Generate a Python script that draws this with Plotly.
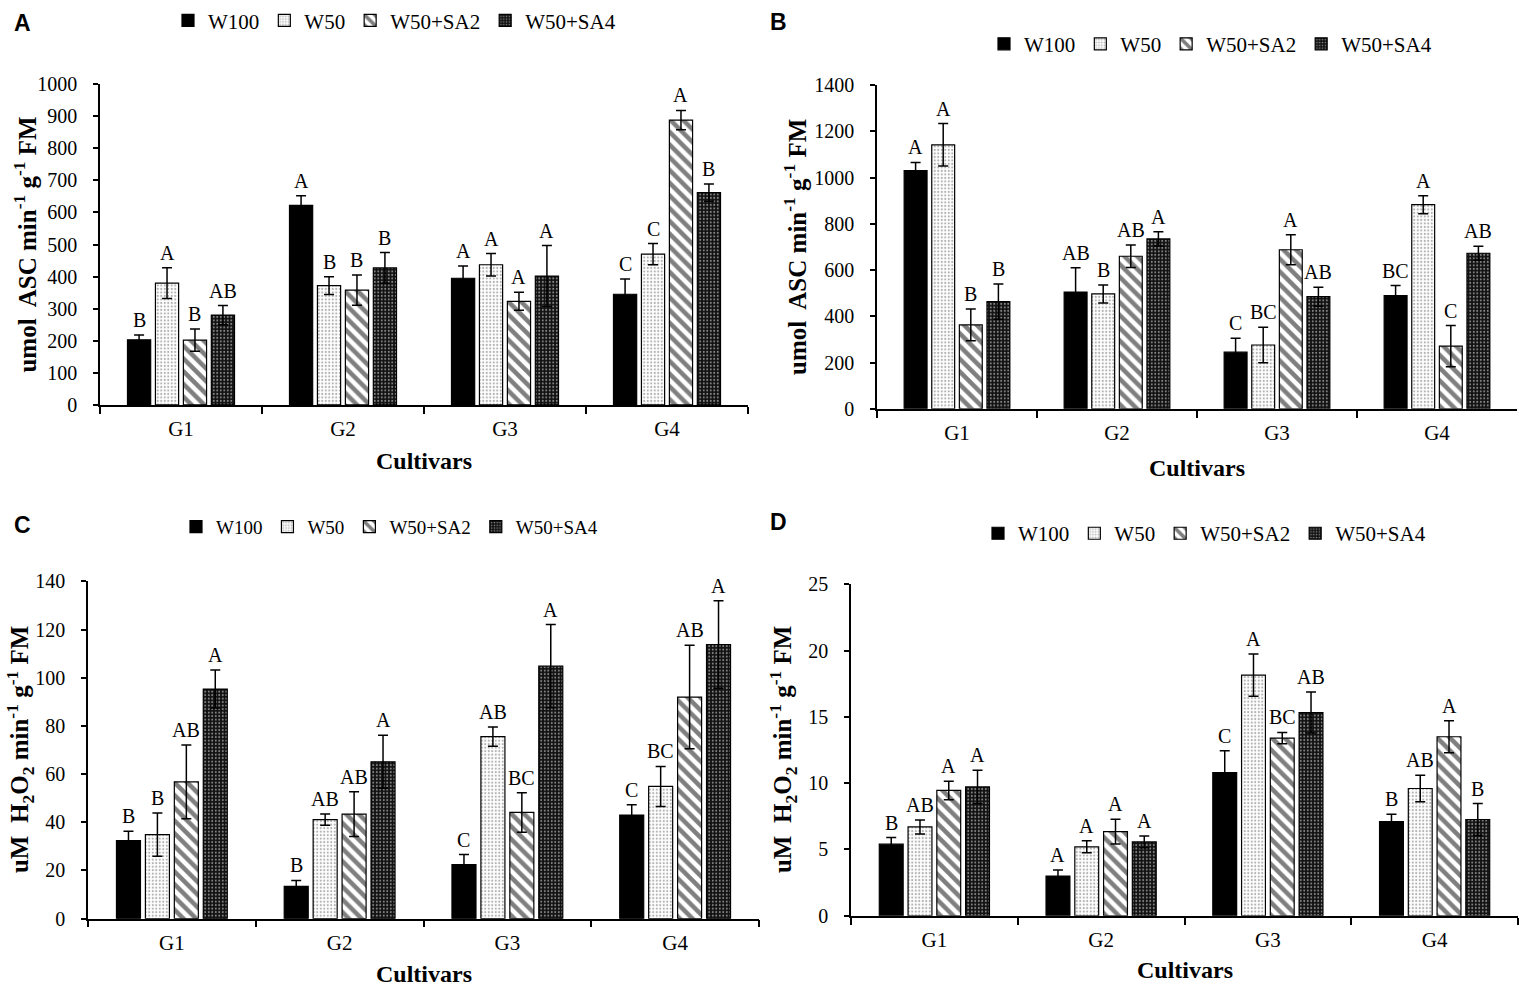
import plotly.graph_objects as go

cultivars = ["G1", "G2", "G3", "G4"]
treatments = ["W100", "W50", "W50+SA2", "W50+SA4"]

# Panel A (umol ASC min-1 g-1 FM)
a_w100 = [203, 622, 395, 345]
a_w50 = [380, 372, 437, 470]
a_sa2 = [202, 358, 323, 888]
a_sa4 = [280, 427, 402, 662]
a_err_w100 = [15, 30, 38, 48]
a_err_w50 = [48, 28, 35, 33]
a_err_sa2 = [35, 47, 28, 30]
a_err_sa4 = [30, 48, 95, 27]
a_letters = [["B", "A", "A", "C"], ["A", "B", "A", "C"], ["B", "B", "A", "A"], ["AB", "B", "A", "B"]]

# Panel B
b_w100 = [1030, 505, 245, 490]
b_w50 = [1142, 497, 276, 883]
b_sa2 = [363, 660, 688, 271]
b_sa4 = [464, 735, 485, 673]
b_err_w100 = [36, 105, 60, 43]
b_err_w50 = [92, 39, 77, 39]
b_err_sa2 = [69, 49, 65, 89]
b_err_sa4 = [76, 31, 41, 30]
b_letters = [["A", "AB", "C", "BC"], ["A", "B", "BC", "A"], ["B", "AB", "A", "C"], ["B", "A", "AB", "AB"]]

# Panel C (uM H2O2 min-1 g-1 FM)
c_w100 = [32.4, 13.4, 22.5, 43.0]
c_w50 = [34.9, 41.1, 75.6, 54.9]
c_sa2 = [56.8, 43.4, 44.1, 92.0]
c_sa4 = [95.3, 65.1, 104.8, 113.8]
c_err_w100 = [3.9, 2.5, 4.1, 4.3]
c_err_w50 = [9.0, 2.3, 4.0, 8.3]
c_err_sa2 = [15.3, 9.3, 8.2, 21.5]
c_err_sa4 = [7.9, 11.0, 17.3, 18.2]
c_letters = [["B", "B", "C", "C"], ["B", "AB", "AB", "BC"], ["AB", "AB", "BC", "AB"], ["A", "A", "A", "A"]]

# Panel D
d_w100 = [5.4, 3.0, 10.8, 7.1]
d_w50 = [6.7, 5.2, 18.15, 9.6]
d_sa2 = [9.45, 6.35, 13.4, 13.5]
d_sa4 = [9.72, 5.57, 15.33, 7.26]
d_err_w100 = [0.5, 0.45, 1.65, 0.55]
d_err_w50 = [0.53, 0.45, 1.6, 1.0]
d_err_sa2 = [0.7, 0.93, 0.43, 1.2]
d_err_sa4 = [1.25, 0.45, 1.55, 1.2]
d_letters = [["B", "A", "C", "B"], ["AB", "A", "A", "AB"], ["A", "A", "BC", "A"], ["A", "A", "AB", "B"]]

panel_letters = ["A", "B", "C", "D"]
y_titles = [
    "umol  ASC min<sup>-1</sup> g<sup>-1</sup> FM",
    "umol  ASC min<sup>-1</sup> g<sup>-1</sup> FM",
    "uM  H<sub>2</sub>O<sub>2</sub> min<sup>-1</sup> g<sup>-1</sup> FM",
    "uM  H<sub>2</sub>O<sub>2</sub> min<sup>-1</sup> g<sup>-1</sup> FM",
]
x_title = "Cultivars"
y_ranges = [(0, 1000, 100), (0, 1400, 200), (0, 140, 20), (0, 25, 5)]

panels = [
    dict(vals=[a_w100, a_w50, a_sa2, a_sa4], errs=[a_err_w100, a_err_w50, a_err_sa2, a_err_sa4], letters=a_letters),
    dict(vals=[b_w100, b_w50, b_sa2, b_sa4], errs=[b_err_w100, b_err_w50, b_err_sa2, b_err_sa4], letters=b_letters),
    dict(vals=[c_w100, c_w50, c_sa2, c_sa4], errs=[c_err_w100, c_err_w50, c_err_sa2, c_err_sa4], letters=c_letters),
    dict(vals=[d_w100, d_w50, d_sa2, d_sa4], errs=[d_err_w100, d_err_w50, d_err_sa2, d_err_sa4], letters=d_letters),
]

W, H = 1519, 995
# plot area pixel boxes (left, right, top, bottom)
boxes = [(100, 748, 72, 401), (877, 1517, 73, 405), (88, 759, 582, 928), (851, 1518, 585, 925)]
legend_pos = [(168, 7), (984, 31), (176, 526), (978, 533)]
legend_size = [21, 21, 19, 21]
letter_pos = [(12, 9), (768, 8), (12, 524), (768, 521)]
ytitle_x = [25, 795, 20, 783]
xtitle_y = [459, 466, 985, 981]

BARGAP = 0.31
SERIF = "Liberation Serif"

styles = [
    dict(color="black", line=dict(color="black", width=1.2)),
    dict(color="white", line=dict(color="black", width=1.2),
         pattern=dict(shape=".", fgcolor="#666666", bgcolor="white", size=3.5, solidity=0.3)),
    dict(color="white", line=dict(color="black", width=1.2),
         pattern=dict(shape="\\", fgcolor="black", bgcolor="white", size=9, solidity=0.5)),
    dict(color="black", line=dict(color="black", width=1.2),
         pattern=dict(shape=".", fgcolor="white", bgcolor="#111111", size=3.5, solidity=0.25)),
]

fig = go.Figure()
annotations = []
layout = {}

for p, panel in enumerate(panels):
    k = "" if p == 0 else str(p + 1)
    l, r, t, b = boxes[p]
    leg = "legend" if p == 0 else "legend" + str(p + 1)
    slot = (1 - BARGAP) / 4
    for i, name in enumerate(treatments):
        fig.add_trace(go.Bar(
            x=cultivars, y=panel["vals"][i], name=name,
            marker=styles[i],
            error_y=dict(type="data", array=panel["errs"][i], visible=True,
                         color="black", thickness=1.5, width=5),
            xaxis="x" + k, yaxis="y" + k, legend=leg,
            offsetgroup=str(i), showlegend=True,
        ))
        for j in range(4):
            annotations.append(dict(
                x=j + (i - 1.5) * slot, y=panel["vals"][i][j] + panel["errs"][i][j],
                xref="x" + k, yref="y" + k, text=panel["letters"][i][j],
                showarrow=False, yanchor="bottom", yshift=2,
                font=dict(family=SERIF, size=20, color="black"),
            ))
    y0, y1, dt = y_ranges[p]
    layout["xaxis" + k] = dict(
        domain=[l / W, r / W], anchor="y" + k, type="category",
        showline=True, linecolor="black", linewidth=1.5,
        ticks="outside", tickson="boundaries", ticklen=7, tickwidth=1.5, tickcolor="black",
        tickfont=dict(family=SERIF, size=21, color="black"), showgrid=False,
        ticklabelstandoff=4,
    )
    layout["yaxis" + k] = dict(
        domain=[1 - b / H, 1 - t / H], anchor="x" + k, range=[y0, y1], dtick=dt,
        showline=True, linecolor="black", linewidth=1.5,
        ticks="outside", ticklen=5, tickwidth=1.5, tickcolor="black",
        tickfont=dict(family=SERIF, size=20, color="black"), showgrid=False, zeroline=False,
        ticklabelstandoff=12,
    )
    lx, ly = legend_pos[p]
    layout[leg] = dict(
        orientation="h", x=lx / W, y=1 - ly / H, xanchor="left", yanchor="middle",
        font=dict(family=SERIF, size=legend_size[p], color="black"), bgcolor="rgba(0,0,0,0)",
        itemwidth=30, tracegroupgap=0,
    )
    annotations.append(dict(
        x=letter_pos[p][0] / W, y=1 - letter_pos[p][1] / H, xref="paper", yref="paper",
        text="<b>" + panel_letters[p] + "</b>", showarrow=False, xanchor="left", yanchor="middle",
        font=dict(family="Liberation Sans", size=23, color="black"),
    ))
    annotations.append(dict(
        x=ytitle_x[p] / W, y=1 - (t + b) / 2 / H, xref="paper", yref="paper",
        text="<b>" + y_titles[p] + "</b>", showarrow=False, textangle=-90,
        xanchor="center", yanchor="middle",
        font=dict(family=SERIF, size=25, color="black"),
    ))
    annotations.append(dict(
        x=(l + r) / 2 / W, y=1 - xtitle_y[p] / H, xref="paper", yref="paper",
        text="<b>" + x_title + "</b>", showarrow=False, xanchor="center", yanchor="middle",
        font=dict(family=SERIF, size=24, color="black"),
    ))

fig.update_layout(
    width=W, height=H, margin=dict(l=0, r=0, t=0, b=0),
    paper_bgcolor="white", plot_bgcolor="white",
    barmode="group", bargap=BARGAP, bargroupgap=0.17,
    annotations=annotations, **layout,
)
fig.write_html("out.html", config={"displayModeBar": False},
               post_script="document.body.style.margin='0px';")
